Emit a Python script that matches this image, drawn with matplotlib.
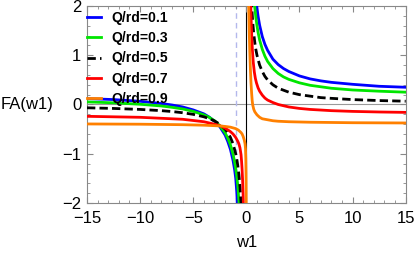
import matplotlib
matplotlib.use("Agg")
import matplotlib.pyplot as plt
from matplotlib.ticker import MultipleLocator

plt.rcParams['font.family'] = ['Liberation Sans', 'DejaVu Sans']

# values, one pair of branches per Q/rd
q_labels = ["Q/rd=0.1", "Q/rd=0.3", "Q/rd=0.5", "Q/rd=0.7", "Q/rd=0.9"]
colors = ["#0000ff", "#00e600", "black", "#ff0000", "#ff8000"]
styles = ["-", "-", (0, (3.0, 1.5)), "-", "-"]
w_mark = -1.0

xr_01 = [0.8, 0.9, 1.0, 1.1, 1.25, 1.5, 1.75, 2, 2.5, 3, 3.5, 4, 5, 6, 7, 8, 10, 12.5, 15]
yr_01 = [2.39, 2.15, 1.96, 1.80, 1.61, 1.38, 1.22, 1.10, 0.92, 0.81, 0.73, 0.67, 0.58, 0.52, 0.48, 0.45, 0.41, 0.37, 0.35]
xl_01 = [-15, -12.5, -10, -8, -7, -6, -5, -4, -3.5, -3, -2.5, -2, -1.75, -1.5, -1.25, -1.1, -1.0, -0.9, -0.8]
yl_01 = [0.12, 0.10, 0.065, 0.02, -0.01, -0.05, -0.11, -0.19, -0.255, -0.34, -0.45, -0.62, -0.75, -0.91, -1.14, -1.33, -1.5, -1.78, -2.25]

xr_03 = [0.7, 0.8, 0.9, 1.0, 1.1, 1.25, 1.5, 1.75, 2, 2.5, 3, 3.5, 4, 5, 6, 7, 8, 10, 12.5, 15]
yr_03 = [2.22, 1.96, 1.76, 1.60, 1.47, 1.31, 1.12, 0.98, 0.875, 0.73, 0.63, 0.56, 0.51, 0.44, 0.39, 0.36, 0.33, 0.295, 0.27, 0.25]
xl_03 = [-15, -12.5, -10, -8, -7, -6, -5, -4, -3.5, -3, -2.5, -2, -1.75, -1.5, -1.25, -1.1, -1.0, -0.9, -0.8, -0.7, -0.6]
yl_03 = [0.053, 0.034, 0.005, -0.03, -0.057, -0.09, -0.14, -0.21, -0.26, -0.33, -0.43, -0.575, -0.68, -0.82, -1.01, -1.17, -1.3, -1.46, -1.66, -1.95, -2.3]

xr_05 = [0.4, 0.45, 0.5, 0.6, 0.7, 0.8, 0.9, 1.0, 1.25, 1.5, 1.75, 2, 2.5, 3, 3.5, 4, 5, 6, 7, 8, 10, 12.5, 15]
yr_05 = [2.5, 2.22, 2.0, 1.67, 1.43, 1.25, 1.11, 1.0, 0.8, 0.67, 0.57, 0.5, 0.4, 0.33, 0.29, 0.25, 0.2, 0.17, 0.14, 0.125, 0.1, 0.08, 0.067]
xl_05 = [-15, -12.5, -10, -8, -7, -6, -5, -4, -3.5, -3, -2.5, -2, -1.75, -1.5, -1.25, -1.0, -0.9, -0.8, -0.7, -0.6, -0.5, -0.45]
yl_05 = [-0.067, -0.08, -0.1, -0.125, -0.143, -0.167, -0.2, -0.25, -0.286, -0.333, -0.4, -0.5, -0.571, -0.667, -0.8, -1.0, -1.11, -1.25, -1.43, -1.67, -2.0, -2.22]

xr_07 = [0.38, 0.42, 0.47, 0.52, 0.57, 0.65, 0.75, 0.85, 0.95, 1.1, 1.25, 1.5, 1.75, 2, 2.5, 3, 4, 5, 6, 8, 10, 12.5, 15]
yr_07 = [2.3, 1.95, 1.6, 1.32, 1.1, 0.86, 0.66, 0.53, 0.44, 0.34, 0.27, 0.19, 0.13, 0.09, 0.04, 0.0, -0.05, -0.08, -0.1, -0.125, -0.14, -0.152, -0.16]
xl_07 = [-15, -10, -6, -4, -3, -2.5, -2, -1.5, -1.25, -1.0, -0.8, -0.7, -0.6, -0.5, -0.45, -0.4, -0.35, -0.3, -0.26]
yl_07 = [-0.24, -0.26, -0.3, -0.35, -0.4, -0.43, -0.48, -0.55, -0.6, -0.67, -0.75, -0.8, -0.88, -1.02, -1.15, -1.32, -1.55, -1.85, -2.15]

xr_09 = [0.18, 0.22, 0.27, 0.32, 0.38, 0.44, 0.5, 0.55, 0.6, 0.7, 0.8, 1.0, 1.25, 1.5, 2, 2.5, 3, 4, 6, 8, 10, 15]
yr_09 = [2.3, 2.0, 1.5, 1.1, 0.72, 0.43, 0.22, 0.08, -0.01, -0.1, -0.15, -0.21, -0.26, -0.29, -0.31, -0.33, -0.34, -0.35, -0.36, -0.365, -0.37, -0.375]
xl_09 = [-15, -10, -6, -4, -3, -2.5, -2, -1.5, -1.0, -0.75, -0.5, -0.4, -0.3, -0.2, -0.12, -0.08, -0.05, -0.03, -0.02, -0.01]
yl_09 = [-0.395, -0.40, -0.41, -0.42, -0.43, -0.435, -0.445, -0.46, -0.49, -0.52, -0.57, -0.6, -0.65, -0.72, -0.8, -0.9, -1.1, -1.4, -1.7, -2.2]

branches = [
    (xl_01, yl_01, xr_01, yr_01),
    (xl_03, yl_03, xr_03, yr_03),
    (xl_05, yl_05, xr_05, yr_05),
    (xl_07, yl_07, xr_07, yr_07),
    (xl_09, yl_09, xr_09, yr_09),
]

fig = plt.figure(figsize=(4.15, 2.57), dpi=100)
ax = fig.add_axes([87 / 415, 1 - 203 / 257, 318.7 / 415, 197 / 257])

ax.axhline(0, color="#999999", lw=0.8, zorder=1)
ax.axvline(0, color="black", lw=0.8, zorder=1)
ax.axvline(w_mark, color="#b4b8ec", lw=1.0, ls=(0, (4, 3)), zorder=1)

for (xl, yl, xr, yr), lab, c, s in zip(branches, q_labels, colors, styles):
    ax.plot(xl, yl, color=c, ls=s, lw=2.0, label=lab, zorder=3)
    ax.plot(xr, yr, color=c, ls=s, lw=2.0, zorder=3)

ax.set_xlim(-15, 15)
ax.set_ylim(-2, 2)
ax.xaxis.set_major_locator(MultipleLocator(5))
ax.xaxis.set_minor_locator(MultipleLocator(1))
ax.yaxis.set_major_locator(MultipleLocator(1))
ax.yaxis.set_minor_locator(MultipleLocator(0.2))
for sp in ax.spines.values():
    sp.set_color("#888888")
    sp.set_linewidth(0.8)
ax.tick_params(which="both", direction="in", top=True, right=True, color="#888888", labelsize=12)
ax.tick_params(which="major", length=4, width=0.8)
ax.tick_params(which="minor", length=2, width=0.6)
ax.tick_params(axis="x", pad=6)
ax.tick_params(axis="y", pad=4)

ax.set_xlabel("w1", fontsize=12)
ax.xaxis.set_label_coords(0.5, -0.203)
ax.xaxis.label.set_va("center")
ax.set_ylabel("FA(w1)", fontsize=12, rotation=0)
ax.yaxis.set_label_coords(-0.187, 0.5)
ax.yaxis.label.set_va("center")
ax.yaxis.label.set_ha("center")

leg = ax.legend(loc="upper left", bbox_to_anchor=(0.0, 0.975), frameon=False,
                prop={"weight": "bold", "size": 10}, handlelength=1.0,
                handletextpad=0.75, labelspacing=0.45, borderaxespad=0.0, borderpad=0.0)

fig.savefig("out.png", dpi=100)
